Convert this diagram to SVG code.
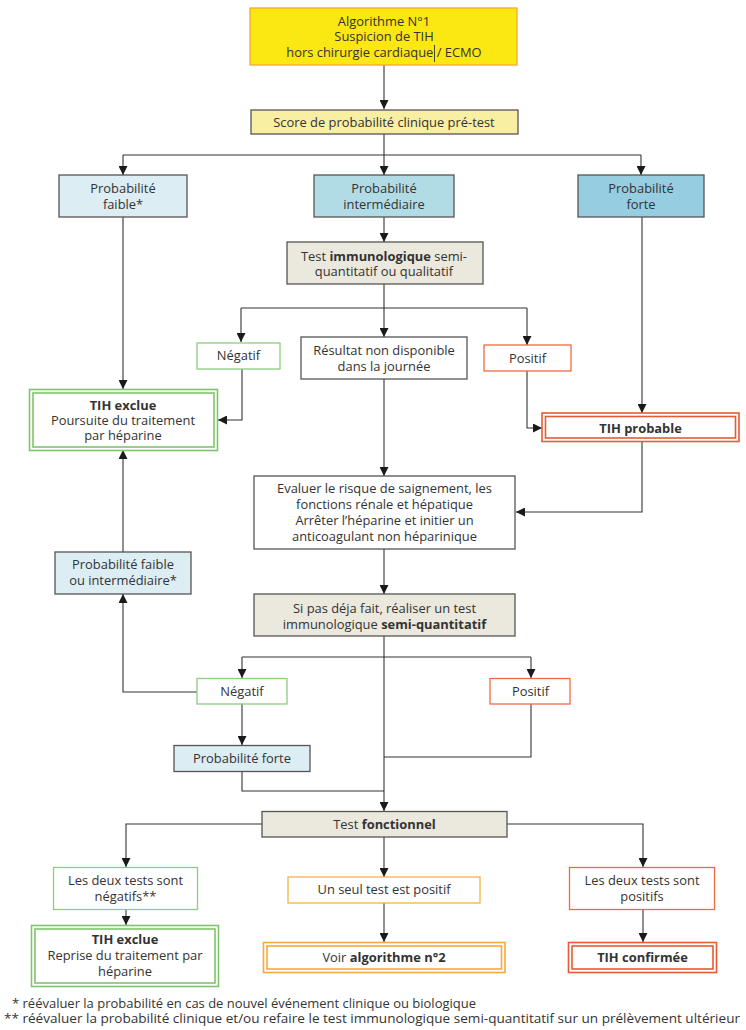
<svg xmlns="http://www.w3.org/2000/svg" width="746" height="1030" viewBox="0 0 746 1030">
<defs>
<marker id="ah" markerUnits="userSpaceOnUse" markerWidth="9" markerHeight="9" refX="9" refY="4.5" orient="auto"><path d="M0,0 L9,4.5 L0,9 z" fill="#1a1a1a"/></marker>
<style>
text{font-family:"Open Sans","DejaVu Sans",sans-serif;font-size:12.9px;fill:#333;text-anchor:middle}
.b{font-weight:bold}
.box{stroke:#555;stroke-width:1.3}
.w{fill:#fff}
.pale{fill:#dcedf4}
.mid{fill:#b2dce5}
.strong{fill:#97cde0}
.beige{fill:#ebe8dd}
.g{fill:#fff;stroke:#8fcd7e;stroke-width:1.3}
.r{fill:#fff;stroke:#ee6a45;stroke-width:1.3}
.o{fill:#fff;stroke:#f6b245;stroke-width:1.3}
.g2{fill:none;stroke:#7fc56c;stroke-width:1.6}
.r2{fill:none;stroke:#e95a33;stroke-width:1.6}
.o2{fill:none;stroke:#f5a93a;stroke-width:1.6}
.c{fill:none;stroke:#333;stroke-width:1.1}
.fn{font-size:12px;text-anchor:start}
</style>
</defs>
<rect width="746" height="1030" fill="#fff"/>
<g id="connectors">
<path class="c" d="M384,65 V109" marker-end="url(#ah)"/>
<path class="c" d="M384,134 V155 M123,155 H641"/>
<path class="c" d="M123,155 V175" marker-end="url(#ah)"/>
<path class="c" d="M384,155 V175" marker-end="url(#ah)"/>
<path class="c" d="M641,155 V175" marker-end="url(#ah)"/>
<path class="c" d="M384,217 V242" marker-end="url(#ah)"/>
<path class="c" d="M384,284 V308 M241,308 H527"/>
<path class="c" d="M241,308 V342" marker-end="url(#ah)"/>
<path class="c" d="M384,308 V337" marker-end="url(#ah)"/>
<path class="c" d="M527,308 V345" marker-end="url(#ah)"/>
<path class="c" d="M123,217 V389" marker-end="url(#ah)"/>
<path class="c" d="M242,369 V420 H218" marker-end="url(#ah)"/>
<path class="c" d="M527,371 V428 H542" marker-end="url(#ah)"/>
<path class="c" d="M642,217 V413" marker-end="url(#ah)"/>
<path class="c" d="M642,442 V512 H516" marker-end="url(#ah)"/>
<path class="c" d="M384,379 V476" marker-end="url(#ah)"/>
<path class="c" d="M384,549 V594" marker-end="url(#ah)"/>
<path class="c" d="M123,552 V450" marker-end="url(#ah)"/>
<path class="c" d="M384,636 V811" marker-end="url(#ah)"/>
<path class="c" d="M242,657 H531"/>
<path class="c" d="M242,657 V678" marker-end="url(#ah)"/>
<path class="c" d="M531,657 V678" marker-end="url(#ah)"/>
<path class="c" d="M197,692 H123 V594" marker-end="url(#ah)"/>
<path class="c" d="M242,704 V745" marker-end="url(#ah)"/>
<path class="c" d="M242,772 V791 H384"/>
<path class="c" d="M531,704 V757 H384"/>
<path class="c" d="M262,824 H126 V867" marker-end="url(#ah)"/>
<path class="c" d="M507,824 H643 V867" marker-end="url(#ah)"/>
<path class="c" d="M384,837 V877" marker-end="url(#ah)"/>
<path class="c" d="M126,909 V925" marker-end="url(#ah)"/>
<path class="c" d="M384,903 V942" marker-end="url(#ah)"/>
<path class="c" d="M643,909 V942" marker-end="url(#ah)"/>
</g>
<g id="start">
<rect x="250" y="8" width="267" height="57" fill="#fbe712" stroke="#f2a83a" stroke-width="1.3"/>
<text x="384" y="25.5">Algorithme N°1</text>
<text x="384" y="41">Suspicion de TIH</text>
<text x="384" y="56.5">hors chirurgie cardiaque / ECMO</text>
<line x1="434.5" y1="45" x2="434.5" y2="62" stroke="#333" stroke-width="0.9"/>
</g>
<g id="score"><rect class="box" x="251" y="110" width="267" height="24" fill="#f8efa2"/><text x="384" y="126.5">Score de probabilité clinique pré-test</text></g>
<g id="p-faible"><rect class="box pale" x="59" y="175" width="128" height="42"/><text x="123" y="192.5">Probabilité</text><text x="123" y="208.5">faible*</text></g>
<g id="p-inter"><rect class="box mid" x="314" y="175" width="140" height="42"/><text x="384" y="192.5">Probabilité</text><text x="384" y="208.5">intermédiaire</text></g>
<g id="p-forte"><rect class="box strong" x="578" y="175" width="126" height="42"/><text x="641" y="192.5">Probabilité</text><text x="641" y="208.5">forte</text></g>
<g id="test-immuno"><rect class="box beige" x="287" y="242" width="196" height="42"/><text x="384" y="261">Test <tspan class="b">immunologique</tspan> semi-</text><text x="384" y="276">quantitatif ou qualitatif</text></g>
<g id="neg1"><rect class="g" x="197" y="343" width="83" height="26"/><text x="238.5" y="360">Négatif</text></g>
<g id="nd"><rect class="box w" x="301" y="337" width="166" height="42"/><text x="384" y="355">Résultat non disponible</text><text x="384" y="370.5">dans la journée</text></g>
<g id="pos1"><rect class="r" x="484" y="345" width="87" height="26"/><text x="527.5" y="362.5">Positif</text></g>
<g id="exclue1"><rect class="g2" x="29.5" y="389.5" width="188" height="61"/><rect class="g2" x="33" y="393" width="181" height="54"/><text class="b" x="123" y="409.5">TIH exclue</text><text x="123" y="424.5">Poursuite du traitement</text><text x="123" y="440">par héparine</text></g>
<g id="probable"><rect class="r2" x="542" y="413" width="197" height="28.5"/><rect class="r2" x="545.5" y="416.5" width="190" height="21.5"/><text class="b" x="640.5" y="432.5">TIH probable</text></g>
<g id="evaluer"><rect class="box w" x="254" y="476" width="261" height="73"/><text x="384.5" y="492.5">Evaluer le risque de saignement, les</text><text x="384.5" y="508.5">fonctions rénale et hépatique</text><text x="384.5" y="524.5">Arrêter l’héparine et initier un</text><text x="384.5" y="540.5">anticoagulant non héparinique</text></g>
<g id="sipas"><rect class="box beige" x="254" y="594" width="261" height="42"/><text x="384.5" y="613">Si pas déja fait, réaliser un test</text><text x="384.5" y="628.5">immunologique <tspan class="b">semi-quantitatif</tspan></text></g>
<g id="p-fi"><rect class="box pale" x="55" y="552" width="136" height="42"/><text x="123" y="569">Probabilité faible</text><text x="123" y="585">ou intermédiaire*</text></g>
<g id="neg2"><rect class="g" x="197" y="678.5" width="90" height="25.5"/><text x="242" y="695.5">Négatif</text></g>
<g id="pos2"><rect class="r" x="490" y="678.5" width="80" height="25.5"/><text x="530.5" y="695.5">Positif</text></g>
<g id="p-forte2"><rect class="box pale" x="174" y="745.5" width="136" height="26"/><text x="242" y="762.5">Probabilité forte</text></g>
<g id="fonctionnel"><rect class="box beige" x="262" y="811.5" width="245" height="25.5"/><text x="384.5" y="828.5">Test <tspan class="b">fonctionnel</tspan></text></g>
<g id="deuxneg"><rect class="g" x="53.5" y="867.5" width="144" height="42"/><text x="125.5" y="885">Les deux tests sont</text><text x="125.5" y="901">négatifs**</text></g>
<g id="unseul"><rect class="o" x="288" y="877" width="192" height="26"/><text x="384" y="894">Un seul test est positif</text></g>
<g id="deuxpos"><rect class="r" x="569.5" y="867.5" width="145" height="42"/><text x="642" y="885">Les deux tests sont</text><text x="642" y="901">positifs</text></g>
<g id="exclue2"><rect class="g2" x="31.5" y="925.5" width="187" height="61"/><rect class="g2" x="35" y="929" width="180" height="54"/><text class="b" x="125" y="944">TIH exclue</text><text x="125" y="960">Reprise du traitement par</text><text x="125" y="976">héparine</text></g>
<g id="algo2"><rect class="o2" x="263.5" y="942.5" width="241.5" height="30"/><rect class="o2" x="267" y="946" width="234.5" height="23"/><text x="384" y="962">Voir <tspan class="b">algorithme n°2</tspan></text></g>
<g id="confirmee"><rect class="r2" x="568.5" y="942.5" width="148" height="30"/><rect class="r2" x="572" y="946" width="141" height="23"/><text class="b" x="642.5" y="962">TIH confirmée</text></g>
<g id="footnotes">
<text class="fn" x="12" y="1008" textLength="464" lengthAdjust="spacingAndGlyphs">* réévaluer la probabilité en cas de nouvel événement clinique ou biologique</text>
<text class="fn" x="4" y="1023" textLength="736" lengthAdjust="spacingAndGlyphs">** réévaluer la probabilité clinique et/ou refaire le test immunologique semi-quantitatif sur un prélèvement ultérieur</text>
</g>
</svg>
